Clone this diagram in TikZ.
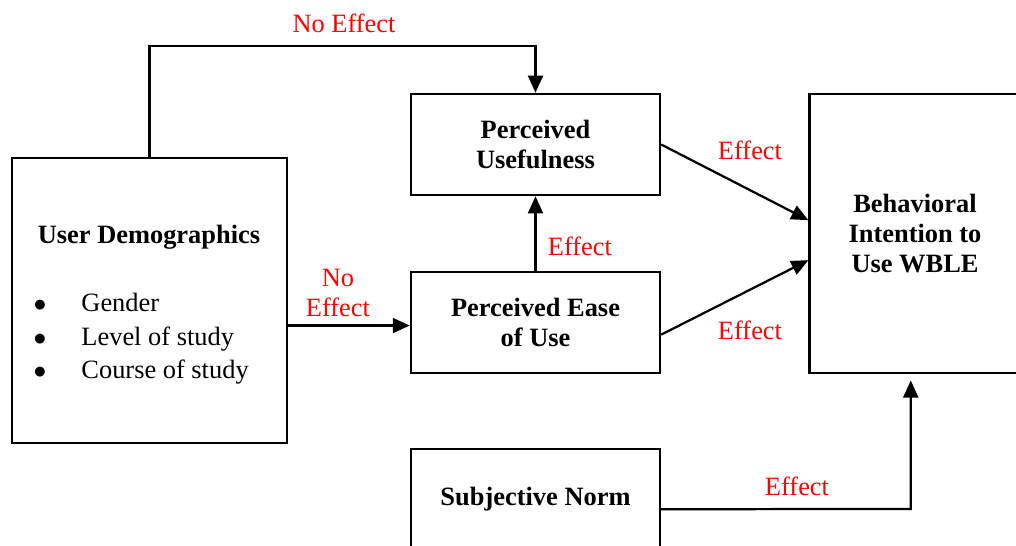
\documentclass[tikz,border=0pt]{standalone}
\usepackage{fontspec}
\setmainfont{Liberation Serif}
\usepackage{xcolor}
\usepackage{tikz}
\usetikzlibrary{arrows.meta,positioning}
\newcommand{\diagfont}{\fontsize{12.4pt}{14.2pt}\selectfont}
\tikzset{
        block/.style = {draw, rectangle, line width=1.05pt,
            align=center, font=\diagfont\bfseries,
            minimum width=4.11cm,
            minimum height=1.67cm},
        arrow/.style = {draw, line width=1.05pt, -{Triangle[length=8pt,width=7pt]}},
        effect/.style = {text=red, align=center, font=\diagfont},
    }

\begin{document}
\begin{tikzpicture}[x=0.0165cm,y=-0.0165cm]
    \clip (0,0) rectangle (1016,545);

    % boxes
    \node[block, minimum width=4.54cm, minimum height=4.70cm] (ud) at (149.5,300.5) {};
    \node[font=\diagfont\bfseries] (udtitle) at (149,237) {User Demographics};
    \node[anchor=west, font=\diagfont] (udlist) at (26,339) {%
        \begin{tabular}{@{}p{0.79cm}@{}l@{}}
            $\bullet$ & Gender\\[1.6pt]
            $\bullet$ & Level of study\\[1.6pt]
            $\bullet$ & Course of study
        \end{tabular}};

    \node[block] (pu) at (535.5,144.5) {Perceived\\Usefulness};
    \node[block] (peu) at (535.5,322.5) {Perceived Ease\\of Use};
    \node[block] (sn) at (535.5,499.5) {Subjective Norm};
    \node[block, minimum width=3.48cm, minimum height=4.60cm] (bi) at (915,233.5)
        {Behavioral\\Intention to\\Use WBLE};

    % connectors
    \coordinate (top) at (344,46);
    \draw[arrow] (ud.north) |- (top) -| (pu.north);
    \node[effect, above=0.1cm of top] (ne1) {No Effect};

    \draw[arrow] ([yshift=-0.05cm]ud.east |- peu.west) -- ([yshift=-0.05cm]peu.west);
    \node[effect] (ne2) at (338,293) {No\\Effect};

    \draw[arrow] (peu.north) -- (pu.south);
    \node[effect] (e1) at (580,246) {Effect};

    \draw[arrow] (pu.east) -- ([yshift=0.22cm]bi.west);
    \node[effect] (e2) at (750,150) {Effect};

    \draw[arrow] ([yshift=-0.2cm]peu.east) -- ([yshift=-0.44cm]bi.west);
    \node[effect] (e3) at (750,330) {Effect};

    \coordinate (snbend) at ([xshift=-0.07cm]bi.south |- 0,509);
    \draw[arrow, shorten >=3pt] ([yshift=-0.16cm]sn.east) -- (snbend) -- ([xshift=-0.07cm]bi.south);
    \node[effect] (e4) at (797,486) {Effect};
\end{tikzpicture}
\end{document}
